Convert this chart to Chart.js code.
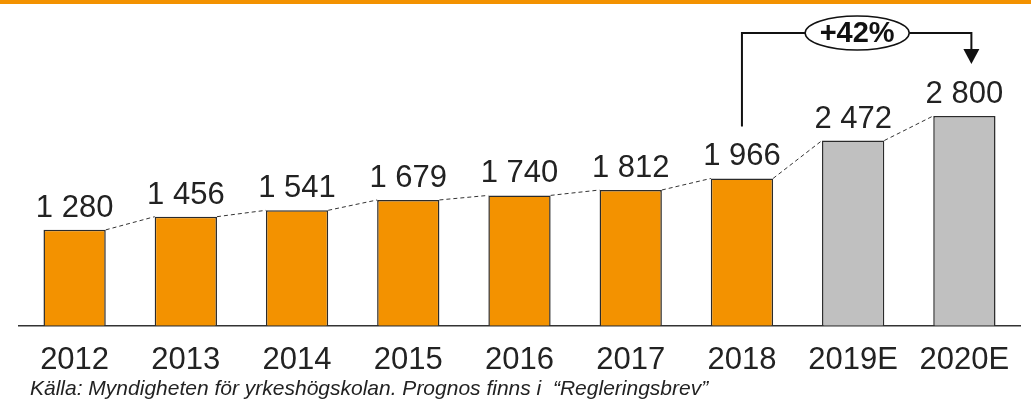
<!DOCTYPE html>
<html>
<head>
<meta charset="utf-8">
<script src="https://cdn.jsdelivr.net/npm/chart.js@4/dist/chart.umd.min.js"></script>
<style>
  html, body { margin: 0; padding: 0; background: #fff; }
  #wrap { position: relative; width: 1031px; height: 401px; }
</style>
</head>
<body>
<div id="wrap"><canvas id="chart"></canvas></div>
<script>
// ── DATA ──────────────────────────────────────────────────────────────────
const years      = ['2012', '2013', '2014', '2015', '2016', '2017', '2018', '2019E', '2020E'];
const students   = [1280, 1456, 1541, 1679, 1740, 1812, 1966, 2472, 2800];
const isForecast = [false, false, false, false, false, false, false, true, true];
const growthText = '+42%';
const sourceText = 'Källa: Myndigheten för yrkeshögskolan. Prognos finns i  \u201CRegleringsbrev\u201D';

const ORANGE = '#f39200';
const GREY   = '#c0c0c0';
const INK    = '#222222';
const FONT   = '"Liberation Sans", Arial, Helvetica, sans-serif';

function fmt(n) {
  return String(n).replace(/\B(?=(\d{3})+(?!\d))/g, ' ');
}

// ── PLUGINS ───────────────────────────────────────────────────────────────
const decor = {
  id: 'decor',
  beforeDraw(chart) {
    const c = chart.ctx;
    c.save();
    c.fillStyle = ORANGE;
    c.fillRect(0, 0, chart.width, 4);
    c.restore();
  },
  afterDatasetsDraw(chart) {
    const c = chart.ctx;
    const bars = chart.getDatasetMeta(0).data;
    c.save();

    // dashed connectors between bar tops
    c.strokeStyle = '#333';
    c.lineWidth = 1;
    c.setLineDash([4, 3]);
    for (let i = 0; i < bars.length - 1; i++) {
      const a = bars[i], b = bars[i + 1];
      c.beginPath();
      c.moveTo(a.x + a.width / 2, a.y);
      c.lineTo(b.x - b.width / 2, b.y);
      c.stroke();
    }
    c.setLineDash([]);

    // value labels
    c.fillStyle = INK;
    c.font = '31px ' + FONT;
    c.textAlign = 'center';
    c.textBaseline = 'alphabetic';
    bars.forEach((bar, i) => {
      c.fillText(fmt(students[i]), bar.x, bar.y - 13);
    });

    // growth annotation 2018 -> 2020E
    const from = bars[6], to = bars[8];
    const topY = 33;
    const ex = (from.x + to.x) / 2 + 4, rx = 52, ry = 17;
    const arrowX = to.x + 7;
    c.strokeStyle = '#111';
    c.lineWidth = 2;
    c.beginPath();
    c.moveTo(from.x, from.y - 52);
    c.lineTo(from.x, topY);
    c.lineTo(ex - rx, topY);
    c.moveTo(ex + rx, topY);
    c.lineTo(arrowX, topY);
    c.lineTo(arrowX, 52);
    c.stroke();
    c.fillStyle = '#111';
    c.beginPath();
    c.moveTo(arrowX - 8, 49);
    c.lineTo(arrowX + 8, 49);
    c.lineTo(arrowX, 64);
    c.closePath();
    c.fill();

    c.lineWidth = 1.5;
    c.fillStyle = '#fff';
    c.beginPath();
    c.ellipse(ex, topY, rx, ry, 0, 0, Math.PI * 2);
    c.fill();
    c.stroke();
    c.fillStyle = '#111';
    c.font = 'bold 29px ' + FONT;
    c.textBaseline = 'middle';
    c.fillText(growthText, ex, topY + 1);

    // source note
    c.font = 'italic 21px ' + FONT;
    c.textAlign = 'left';
    c.textBaseline = 'alphabetic';
    c.fillStyle = INK;
    c.fillText(sourceText, 30, 395);

    c.restore();
  }
};

// ── CHART ─────────────────────────────────────────────────────────────────
new Chart(document.getElementById('chart'), {
  type: 'bar',
  data: {
    labels: years,
    datasets: [{
      data:               students,
      backgroundColor:    isForecast.map(f => f ? GREY : ORANGE),
      borderColor:        '#2b2b2b',
      borderWidth:        1.5,
      borderSkipped:      'bottom',
      categoryPercentage: 1,
      barPercentage:      0.56
    }]
  },
  options: {
    responsive:          true,
    maintainAspectRatio: false,
    animation:           false,
    layout: { padding: { left: 19, right: 11, top: 26, bottom: 6 } },
    plugins: {
      legend:  { display: false },
      tooltip: { enabled: false }
    },
    scales: {
      x: {
        grid:   { display: false, drawTicks: false },
        border: { display: true, color: '#333', width: 1.5 },
        ticks:  { font: { family: FONT, size: 31 }, color: INK, padding: 16, maxRotation: 0, autoSkip: false }
      },
      y: {
        display: false,
        min: 0,
        max: 4000
      }
    }
  },
  plugins: [decor]
});
</script>
</body>
</html>
